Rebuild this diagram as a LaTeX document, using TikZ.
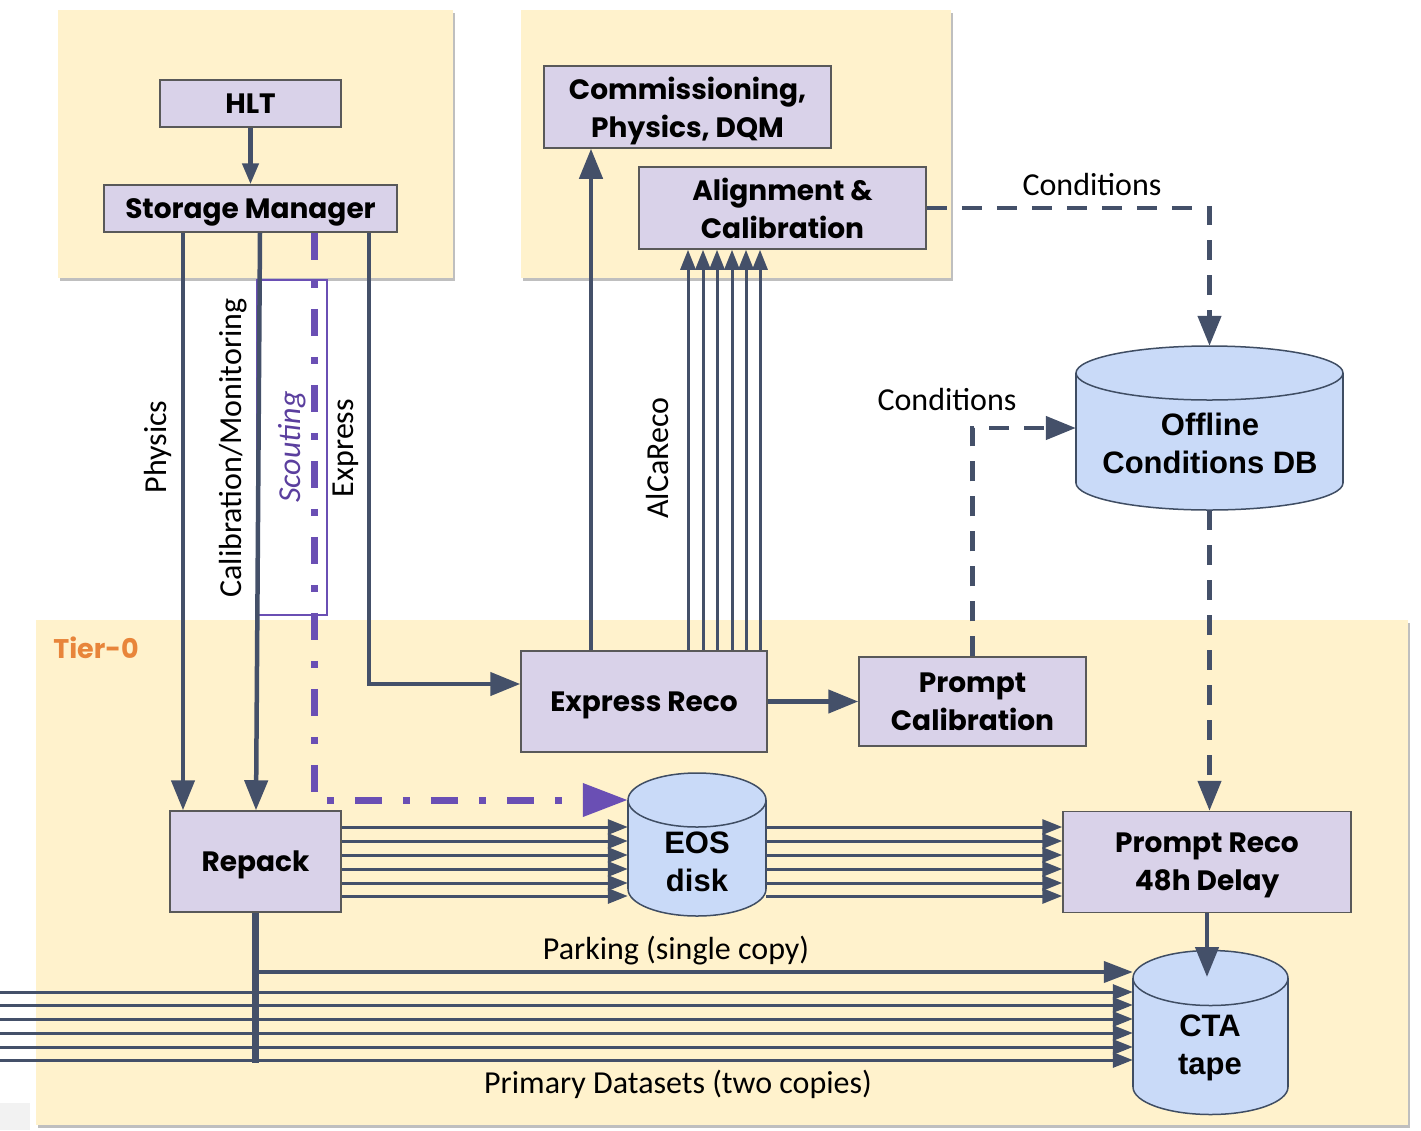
\documentclass[tikz,border=0pt]{standalone}
\usepackage{fontspec}
\setmainfont{Carlito}
\newfontfamily\boxfont{Poppins}
\newfontfamily\arialfont{Liberation Sans}
\usetikzlibrary{arrows.meta,shadows,calc}
\definecolor{panelc}{HTML}{FFF2CC}
\definecolor{boxc}{HTML}{D9D2E9}
\definecolor{boxlinec}{HTML}{595959}
\definecolor{cylc}{HTML}{C9DAF8}
\definecolor{cyllinec}{HTML}{3F4D63}
\definecolor{arrc}{HTML}{445069}
\definecolor{purp}{HTML}{6A4FB4}
\definecolor{purptext}{HTML}{5B3F9E}
\definecolor{orangec}{HTML}{E8853A}
\newcommand\dbcyl[6]{%
  \pgfmathsetmacro\cylcx{(#2+#3)/2}%
  \pgfmathsetmacro\cylrx{(#3-#2)/2}%
  \pgfmathsetmacro\cylw{#3-#2}%
  \pgfmathsetmacro\cylh{#5-#4+2*#6}%
  \pgfmathsetmacro\cylcy{(#4+#5)/2}%
  \filldraw[cylbody] (\cylcx,#5) ellipse [x radius=\cylrx, y radius=#6];
  \fill[cylc] (#2,#4) rectangle (#3,#5);
  \draw[cyllinec, line width=1.5pt] (#2,#4) -- (#2,#5) (#3,#4) -- (#3,#5);
  \filldraw[cylbody] (\cylcx,#4) ellipse [x radius=\cylrx, y radius=#6];
  \node[inner sep=0pt, minimum width=\cylw pt, minimum height=\cylh pt] (#1) at (\cylcx,\cylcy) {};
}
\begin{document}
\begin{tikzpicture}[x=1pt,y=-1pt,
  panel/.style={fill=panelc, drop shadow={shadow xshift=1.5pt, shadow yshift=-2.5pt, opacity=0.25, fill=black}},
  box/.style={draw=boxlinec, fill=boxc, line width=1.5pt, inner sep=0pt, align=center, text depth=0pt, font=\boxfont\bfseries\fontsize{28}{38}\selectfont},
  cylbody/.style={fill=cylc, draw=cyllinec, line width=1.5pt},
  cyltext/.style={align=center, inner sep=0pt, font=\arialfont\bfseries\fontsize{31}{38}\selectfont},
  lbl/.style={font=\fontsize{32}{38}\selectfont, inner sep=0pt},
  conn/.style={draw=arrc, line width=4.5pt, -{Triangle[length=30pt,width=23pt]}},
  thinarr/.style={draw=arrc, line width=3pt, -{Triangle[length=20pt,width=15pt]}},
  dconn/.style={conn, dash pattern=on 20pt off 15pt},
  scout/.style={draw=purp, line width=7pt, dash pattern=on 27pt off 21pt on 7pt off 21pt, -{Triangle[length=45pt,width=32pt]}},
]
\useasboundingbox (0,0) rectangle (1421,1130);
\fill[white] (0,0) rectangle (1421,1130);
\fill[gray!10] (0,1103) rectangle (30,1130);
% panels
\path[panel] (58,10) rectangle (453,278);
\path[panel] (521,10) rectangle (951,278);
\path[panel] (36,620) rectangle (1408,1125);
% cylinders
\dbcyl{odb}{1076}{1343}{373}{483}{27}
\dbcyl{eos}{628}{766}{800}{889}{27}
\dbcyl{cta}{1133}{1288}{978}{1087}{27.5}
\node[cyltext] (odbt) at (1210,443) {Offline\\Conditions DB};
\node[cyltext] (eost) at (697,862) {EOS\\disk};
\node[cyltext] (ctat) at (1210,1048) {CTA\\tape};
% boxes
\node[box, minimum width=181pt, minimum height=47pt] (hlt) at (250.5,103.5) {HLT};
\node[box, minimum width=293pt, minimum height=47pt] (sm) at (250.5,208.5) {Storage Manager};
\node[box, minimum width=287pt, minimum height=82pt] (comm) at (687.5,107) {Commissioning,\\Physics, DQM};
\node[box, minimum width=287pt, minimum height=82pt] (align) at (782.5,208) {Alignment \&\\Calibration};
\node[box, minimum width=246pt, minimum height=101pt] (express) at (644,701.5) {Express Reco};
\node[box, minimum width=227pt, minimum height=89pt] (pcal) at (972.5,701.5) {Prompt\\Calibration};
\node[box, minimum width=171pt, minimum height=101pt] (repack) at (255.5,861.5) {Repack};
\node[box, minimum width=288pt, minimum height=101pt] (preco) at (1207,862) {Prompt Reco\\48h Delay};
% scouting frame
\node[draw=purp, line width=1.2pt, minimum width=70pt, minimum height=335pt, inner sep=0pt] (scoutbox) at (292,447.5) {};
% labels
\node[lbl] (lcond1) at (1092,185) {Conditions};
\node[lbl] (lcond2) at (947,399) {Conditions};
\node[lbl, rotate=90] (lphys) at (158,447) {Physics};
\node[lbl, rotate=90] (lcal) at (233,448) {Calibration/Monitoring};
\node[lbl, rotate=90, text=purptext, font=\itshape\fontsize{32}{38}\selectfont] (lscout) at (292,447) {Scouting};
\node[lbl, rotate=90] (lexp) at (346,448) {Express};
\node[lbl, rotate=90] (lalca) at (657,458) {AlCaReco};
\node[lbl] (lpark) at (676,951) {Parking (single copy)};
\node[lbl] (lprim) at (678,1084) {Primary Datasets (two copies)};
\node[font=\boxfont\bfseries\fontsize{27}{32}\selectfont, text=orangec, inner sep=0pt, text depth=0pt] (tier) at (96,648) {Tier-0};
% connectors
\draw[conn, -{Triangle[length=21pt,width=16pt]}] (hlt) -- (sm);
\draw[conn] (sm.south -| 183,0) -- (repack.north -| 183,0);
\draw[conn] (sm.south -| 260,0) -- (repack.north -| 256,0);
\draw[scout] (sm.south -| 314,0) |- (eos.west |- 0,800);
\draw[conn] (sm.south -| 369,0) |- (express.west |- 0,684);
\draw[conn] (express.north -| 591,0) -- (comm.south -| 591,0);
\foreach \xx in {688,703,717,732,746,760}
  \draw[thinarr] (express.north -| \xx,0) -- (align.south -| \xx,0);
\draw[conn] (express) -- (pcal);
\draw[dconn] (align.east) -| (odb.north);
\draw[dconn] (pcal.north) |- (odb.west |- 0,428);
\draw[dconn] (odb.south) -- (odb.south |- preco.north);
\foreach \yy in {827,841,855,869,883,896} {
  \draw[thinarr] (repack.east |- 0,\yy) -- (eos.west |- 0,\yy);
  \draw[thinarr] (eos.east |- 0,\yy) -- (preco.west |- 0,\yy);
}
\coordinate (lft) at (0,1000);
\foreach \yy in {992,1005,1019,1033,1047,1060}
  \draw[thinarr] (lft |- 0,\yy) -- (cta.west |- 0,\yy);
\draw[arrc, line width=6.5pt] (repack.south) -- (repack.south |- 0,1063);
\draw[conn, line width=4pt, -{Triangle[length=29pt,width=21pt]}] (repack.south |- 0,972) -- (cta.west |- 0,972);
\draw[conn] (preco.south) -- (preco.south |- 0,977);
\end{tikzpicture}
\end{document}
